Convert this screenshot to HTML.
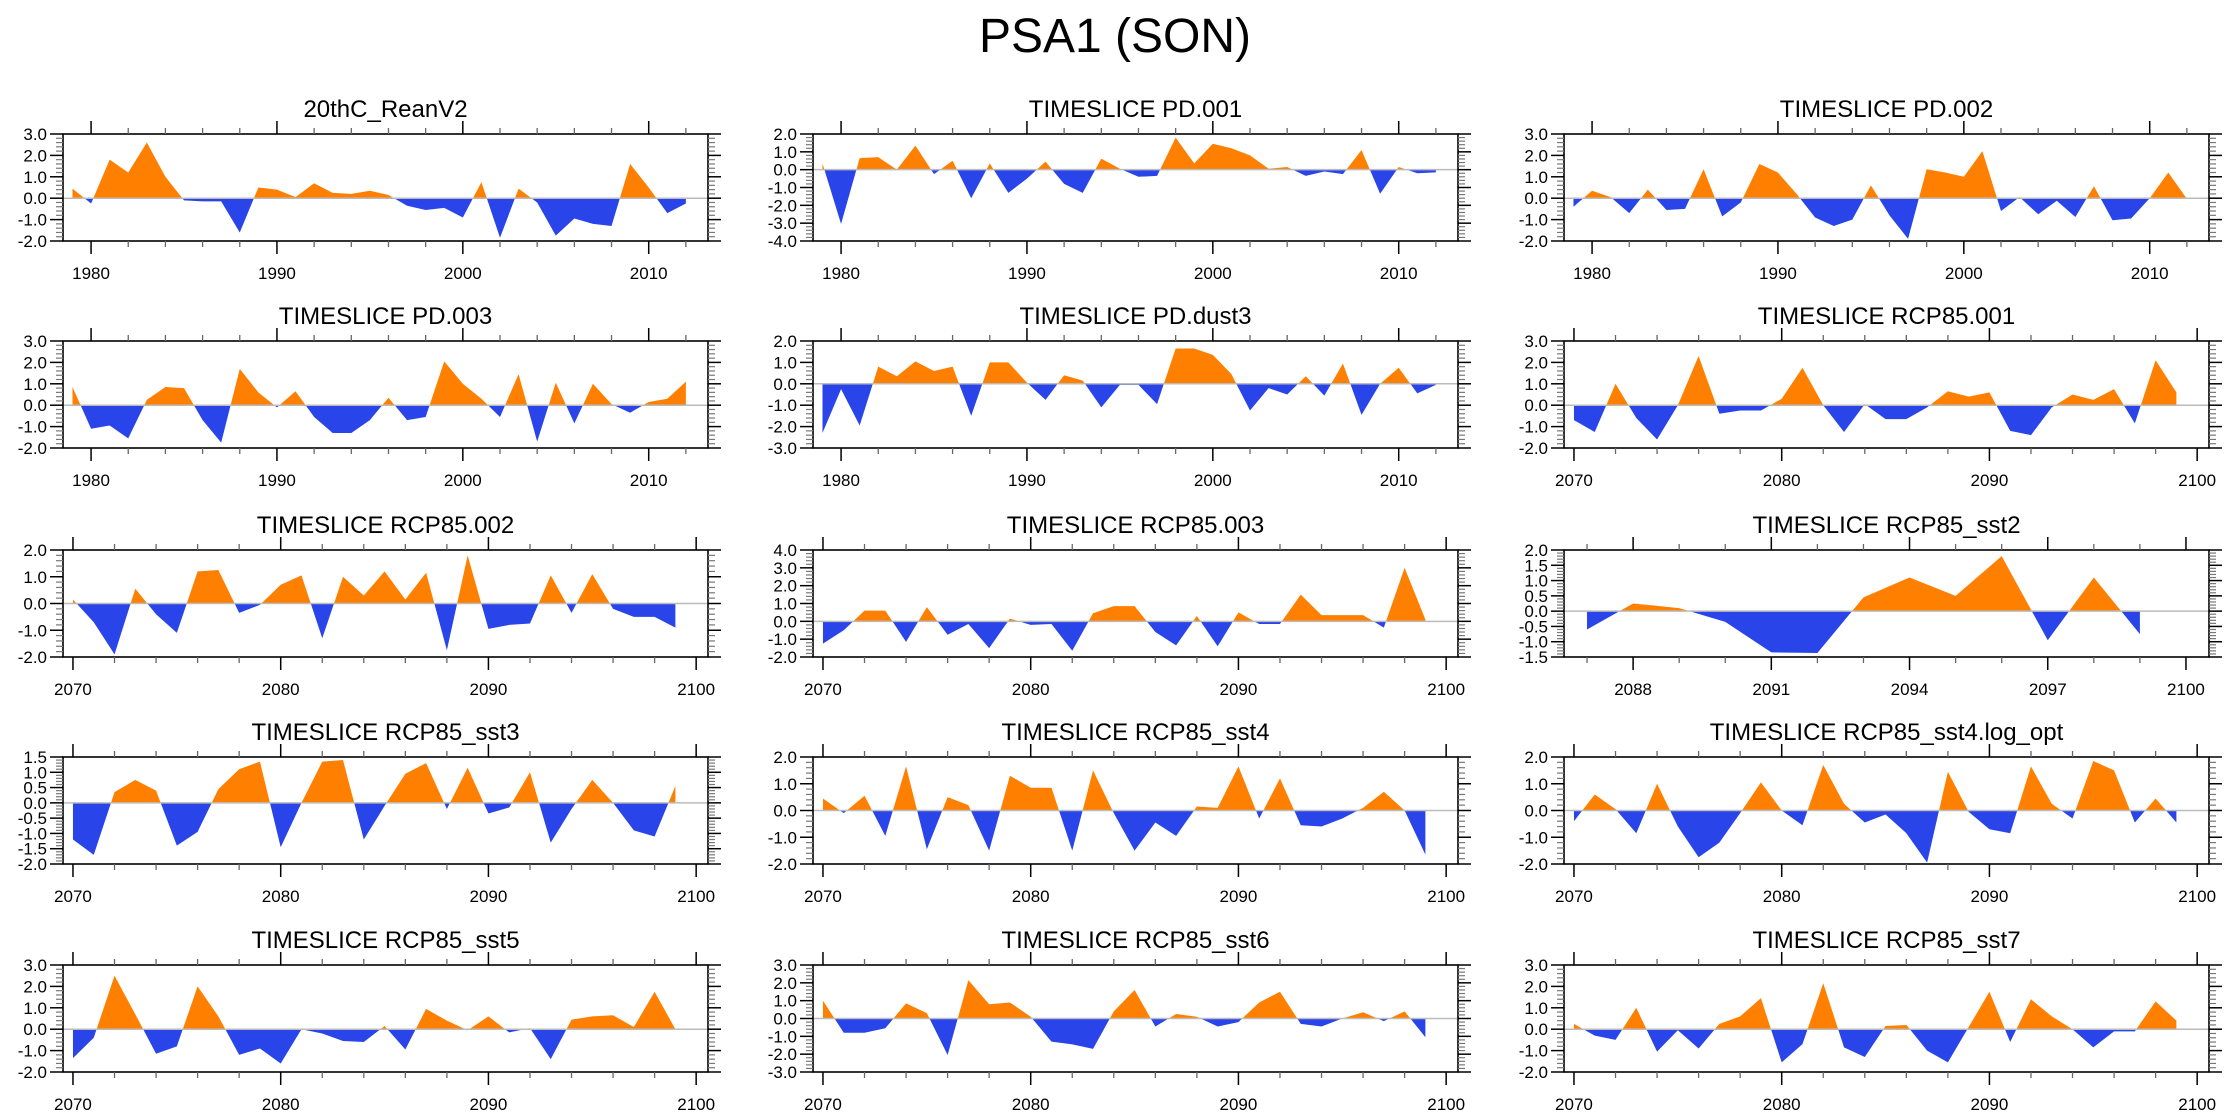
<!DOCTYPE html>
<html><head><meta charset="utf-8"><title>PSA1 (SON)</title>
<style>
html,body{margin:0;padding:0;background:#fff;}
svg{display:block;font-family:"Liberation Sans",Arial,sans-serif;}
</style></head>
<body>
<svg id="chart" width="2230" height="1120" viewBox="0 0 2230 1120" xmlns="http://www.w3.org/2000/svg">
<rect x="0" y="0" width="2230" height="1120" fill="#fff"/>
<text x="1115" y="52" font-size="48" text-anchor="middle" fill="#000">PSA1 (SON)</text>
</svg>
<script>
// ---------- data ----------
const yearsHist = [1979,1980,1981,1982,1983,1984,1985,1986,1987,1988,1989,1990,1991,1992,1993,1994,1995,1996,1997,1998,1999,2000,2001,2002,2003,2004,2005,2006,2007,2008,2009,2010,2011,2012];
const yearsFut = [2070,2071,2072,2073,2074,2075,2076,2077,2078,2079,2080,2081,2082,2083,2084,2085,2086,2087,2088,2089,2090,2091,2092,2093,2094,2095,2096,2097,2098,2099];
const yearsSst2 = [2087,2088,2089,2090,2091,2092,2093,2094,2095,2096,2097,2098,2099];

const valsReanV2 = [0.45,-0.25,1.8,1.2,2.6,1.0,-0.1,-0.15,-0.15,-1.6,0.5,0.4,0.05,0.7,0.25,0.2,0.35,0.15,-0.35,-0.55,-0.45,-0.9,0.75,-1.85,0.45,-0.2,-1.75,-0.95,-1.2,-1.3,1.6,0.5,-0.7,-0.25];
const valsPD001 = [0.35,-3.05,0.65,0.7,0.0,1.35,-0.25,0.5,-1.6,0.35,-1.3,-0.5,0.45,-0.8,-1.3,0.62,0.05,-0.4,-0.35,1.8,0.35,1.45,1.2,0.8,0.05,0.15,-0.35,-0.1,-0.25,1.1,-1.35,0.15,-0.2,-0.15];
const valsPD002 = [-0.4,0.35,0.05,-0.7,0.4,-0.55,-0.5,1.35,-0.85,-0.2,1.6,1.2,0.2,-0.9,-1.3,-1.0,0.6,-0.8,-1.9,1.35,1.2,1.0,2.2,-0.6,0.05,-0.75,-0.12,-0.88,0.56,-1.03,-0.95,0.0,1.2,-0.03];
const valsPD003 = [0.85,-1.1,-0.95,-1.55,0.25,0.85,0.8,-0.7,-1.75,1.7,0.6,-0.1,0.65,-0.55,-1.3,-1.3,-0.7,0.35,-0.7,-0.55,2.05,1.0,0.3,-0.55,1.45,-1.7,1.05,-0.85,1.0,0.05,-0.35,0.15,0.3,1.1];
const valsPDdust3 = [-2.3,-0.25,-1.95,0.8,0.35,1.05,0.6,0.8,-1.5,1.0,1.0,0.05,-0.75,0.4,0.15,-1.1,-0.05,-0.05,-0.95,1.65,1.65,1.35,0.45,-1.25,-0.2,-0.5,0.35,-0.55,0.95,-1.45,0.0,0.75,-0.45,-0.05];
const valsRCP001 = [-0.7,-1.25,1.0,-0.6,-1.6,0.0,2.3,-0.4,-0.25,-0.25,0.3,1.75,0.0,-1.25,0.05,-0.65,-0.65,-0.1,0.65,0.4,0.6,-1.2,-1.4,-0.1,0.5,0.25,0.75,-0.85,2.1,0.6];
const valsRCP002 = [0.15,-0.7,-1.9,0.55,-0.4,-1.1,1.2,1.25,-0.35,-0.05,0.7,1.05,-1.3,1.0,0.3,1.2,0.15,1.15,-1.75,1.8,-0.95,-0.8,-0.75,1.05,-0.35,1.1,-0.2,-0.5,-0.5,-0.9];
const valsRCP003 = [-1.25,-0.5,0.6,0.6,-1.15,0.8,-0.75,-0.15,-1.5,0.15,-0.2,-0.15,-1.65,0.45,0.85,0.85,-0.6,-1.35,0.3,-1.4,0.5,-0.15,-0.15,1.5,0.35,0.35,0.35,-0.35,3.0,0.1];
const valsSst2 = [-0.6,0.25,0.1,-0.35,-1.35,-1.37,0.45,1.1,0.5,1.8,-0.95,1.1,-0.75];
const valsSst3 = [-1.2,-1.7,0.35,0.75,0.4,-1.4,-0.95,0.45,1.1,1.35,-1.45,0.0,1.35,1.4,-1.2,-0.1,0.95,1.3,-0.2,1.15,-0.35,-0.15,1.0,-1.3,-0.2,0.75,0.0,-0.9,-1.1,0.55];
const valsSst4 = [0.45,-0.1,0.55,-0.95,1.65,-1.45,0.5,0.2,-1.5,1.3,0.85,0.85,-1.5,1.5,-0.1,-1.5,-0.45,-0.95,0.15,0.1,1.65,-0.3,1.2,-0.55,-0.6,-0.3,0.1,0.7,0.0,-1.65];
const valsSst4Log = [-0.4,0.6,0.05,-0.85,1.0,-0.6,-1.75,-1.2,-0.1,1.05,0.0,-0.55,1.7,0.25,-0.45,-0.15,-0.85,-1.95,1.45,-0.05,-0.7,-0.85,1.65,0.25,-0.3,1.85,1.5,-0.45,0.45,-0.45];
const valsSst5 = [-1.35,-0.4,2.5,0.7,-1.15,-0.8,2.0,0.6,-1.2,-0.9,-1.6,0.0,-0.2,-0.55,-0.6,0.15,-0.95,0.95,0.4,-0.05,0.6,-0.15,0.05,-1.4,0.45,0.6,0.65,0.1,1.75,0.0];
const valsSst6 = [1.0,-0.8,-0.8,-0.55,0.85,0.3,-2.05,2.15,0.8,0.9,0.1,-1.3,-1.45,-1.7,0.4,1.6,-0.45,0.25,0.1,-0.45,-0.2,0.9,1.5,-0.3,-0.45,0.0,0.35,-0.15,0.4,-1.05];
const valsSst7 = [0.25,-0.3,-0.5,1.0,-1.05,-0.05,-0.9,0.25,0.6,1.45,-1.55,-0.7,2.15,-0.85,-1.3,0.15,0.2,-1.0,-1.55,0.1,1.75,-0.6,1.4,0.6,0.0,-0.85,-0.1,-0.1,1.3,0.4];

const titles = ["20thC_ReanV2","TIMESLICE PD.001","TIMESLICE PD.002","TIMESLICE PD.003","TIMESLICE PD.dust3","TIMESLICE RCP85.001","TIMESLICE RCP85.002","TIMESLICE RCP85.003","TIMESLICE RCP85_sst2","TIMESLICE RCP85_sst3","TIMESLICE RCP85_sst4","TIMESLICE RCP85_sst4.log_opt","TIMESLICE RCP85_sst5","TIMESLICE RCP85_sst6","TIMESLICE RCP85_sst7"];
const yMaxes = [3,2,3,3,2,3,2,4,2,1.5,2,2,3,3,3];
const yMins  = [-2,-4,-2,-2,-3,-2,-2,-2,-1.5,-2,-2,-2,-2,-3,-2];
const yMajorSteps = [1,1,1,1,1,1,1,1,0.5,0.5,1,1,1,1,1];
const seriesVals = [valsReanV2,valsPD001,valsPD002,valsPD003,valsPDdust3,valsRCP001,valsRCP002,valsRCP003,valsSst2,valsSst3,valsSst4,valsSst4Log,valsSst5,valsSst6,valsSst7];
const seriesYears = [yearsHist,yearsHist,yearsHist,yearsHist,yearsHist,yearsFut,yearsFut,yearsFut,yearsSst2,yearsFut,yearsFut,yearsFut,yearsFut,yearsFut,yearsFut];
const xAxisKinds = ["hist","hist","hist","hist","hist","fut","fut","fut","sst2","fut","fut","fut","fut","fut","fut"];

// ---------- layout ----------
const colLeft = [63, 813, 1564];
const rowTop = [134, 341, 550, 757, 965];
const PW = 645, PH = 107;
const axisKinds = {
  hist: {min:1978.49, max:2013.19, major:[1980,1990,2000,2010], minorStep:2, minorStart:1980},
  fut:  {min:2069.52, max:2100.57, major:[2070,2080,2090,2100], minorStep:2, minorStart:2070},
  sst2: {min:2086.5, max:2100.5, major:[2088,2091,2094,2097,2100], minorStep:1, minorStart:2087}
};
const ORANGE = "#ff8000", BLUE = "#2945ea";
const svg = document.getElementById('chart');
const NS = "http://www.w3.org/2000/svg";
function mk(tag, attrs, parent){
  const e = document.createElementNS(NS, tag);
  for (const k in attrs) e.setAttribute(k, attrs[k]);
  (parent||svg).appendChild(e);
  return e;
}
function line(g,x1,y1,x2,y2,stroke,w){
  const l = mk('line',{x1:x1,y1:y1,x2:x2,y2:y2,stroke:stroke,'stroke-width':w},g);
  
  
  return l;
}
function fmt(v){ return (Math.abs(v)<1e-9?0:v).toFixed(1); }

for (let p = 0; p < 15; p++) {
  const col = p % 3, row = Math.floor(p / 3);
  const L = colLeft[col], T = rowTop[row], R = L + PW, B = T + PH;
  const ax = axisKinds[xAxisKinds[p]];
  const yMax = yMaxes[p], yMin = yMins[p];
  const xs = v => L + (v - ax.min) / (ax.max - ax.min) * PW;
  const ys = v => T + (yMax - v) / (yMax - yMin) * PH;

  const g = mk('g',{});
  
  

  const t = mk('text',{x:(L+R)/2, y:T-17, 'font-size':24, 'text-anchor':'middle', fill:'#000'}, g);
  t.textContent = titles[p];
  
  

  const clipA = 'ca'+p, clipB = 'cb'+p;
  const z = ys(0);
  const defs = mk('defs',{},g);
  const c1 = mk('clipPath',{id:clipA},defs); mk('rect',{x:L,y:T,width:PW,height:z-T},c1);
  const c2 = mk('clipPath',{id:clipB},defs); mk('rect',{x:L,y:z,width:PW,height:B-z},c2);
  const yrs = seriesYears[p], vals = seriesVals[p];
  let d = '';
  for (let i = 0; i < vals.length; i++) d += (i? 'L':'M') + xs(yrs[i]).toFixed(2) + ',' + ys(vals[i]).toFixed(2);
  d += 'L' + xs(yrs[yrs.length-1]).toFixed(2) + ',' + z.toFixed(2) + 'L' + xs(yrs[0]).toFixed(2) + ',' + z.toFixed(2) + 'Z';
  const fa = mk('path',{d:d, fill:ORANGE, 'clip-path':'url(#'+clipA+')'}, g);
  
  
  const fb = mk('path',{d:d, fill:BLUE, 'clip-path':'url(#'+clipB+')'}, g);
  
  

  const zl = mk('line',{x1:L,y1:z,x2:R,y2:z,stroke:'#bbbbbb','stroke-width':1.5},g);
  
  

  const fr = mk('rect',{x:L,y:T,width:PW,height:PH,fill:'none',stroke:'#000','stroke-width':1.6},g);
  
  

  for (let yv = ax.minorStart; yv <= ax.max; yv += ax.minorStep) {
    if (ax.major.indexOf(yv) >= 0) continue;
    const x = xs(yv);
    line(g,x,T,x,T-6,'#666',1.3); line(g,x,B,x,B+6,'#666',1.3);
  }
  ax.major.forEach(yv => {
    const x = xs(yv);
    line(g,x,T,x,T-13,'#000',1.5); line(g,x,B,x,B+13,'#000',1.5);
    const tl = mk('text',{x:x, y:B+38, 'font-size':17, 'text-anchor':'middle', fill:'#000'}, g);
    tl.textContent = yv;
    
    
  });

  const step = yMajorSteps[p], minor = step === 1 ? 0.2 : 0.1;
  const nMinor = Math.round((yMax - yMin) / minor);
  for (let i = 0; i <= nMinor; i++) {
    const v = yMin + i * minor;
    const y = ys(v);
    const isMajor = Math.abs(v/step - Math.round(v/step)) < 1e-6;
    if (isMajor) {
      line(g,L,y,L-13,y,'#000',1.5); line(g,R,y,R+13,y,'#000',1.5);
      const yl = mk('text',{x:L-16, y:y+6, 'font-size':17, 'text-anchor':'end', fill:'#000'}, g);
      yl.textContent = fmt(v);
      
      
    } else {
      line(g,L,y,L-7,y,'#777',1.2); line(g,R,y,R+7,y,'#777',1.2);
    }
  }
}
</script>
</body></html>
